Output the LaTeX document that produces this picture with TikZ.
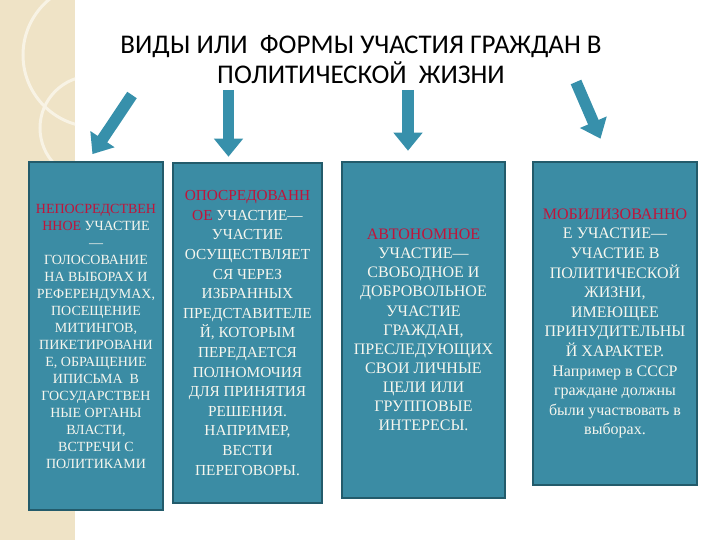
\documentclass[tikz,border=0pt]{standalone}
\usepackage{fontspec}
\setmainfont{Liberation Serif}
\newfontfamily\titlefont{Carlito}
\usetikzlibrary{arrows.meta}
\definecolor{boxfill}{HTML}{3B8CA4}
\definecolor{boxedge}{HTML}{235B6B}
\definecolor{arrowfill}{HTML}{3790AB}
\definecolor{keyword}{HTML}{C0143A}
\definecolor{boxtext}{HTML}{F6F6EE}
\definecolor{paper}{HTML}{EFE3C6}
\newcommand{\kw}[1]{\textcolor{keyword}{#1}}

\begin{document}
\begin{tikzpicture}[x=1pt,y=-1pt,
    formbox/.style={draw=boxedge,line width=2.5pt,fill=boxfill,text=boxtext,
      align=center,inner sep=0pt},
    bigarrow/.style={arrowfill,line width=11.5pt,-{Triangle[width=28pt,length=18pt]}}]
  \useasboundingbox (0,0) rectangle (720,540);
  % beige strip on the left
  \fill[paper] (0,0) rectangle (75,540);
  \begin{scope}
    \clip (0,0) rectangle (75,540);
    \draw[white!55!paper,line width=3pt] (95,55) circle (72);
    \draw[white!55!paper,line width=3pt] (92,128) circle (52);
  \end{scope}
  % title
  \node[font=\titlefont\fontsize{27}{30}\selectfont,align=center] (title) at (361,60)
    {ВИДЫ ИЛИ \ ФОРМЫ УЧАСТИЯ ГРАЖДАН В\\ПОЛИТИЧЕСКОЙ \ ЖИЗНИ};
  % the four forms
  \node[formbox,minimum width=134pt,minimum height=348pt,
    font=\fontsize{14}{17}\selectfont] (b1) at (96,336)
    {\kw{НЕПОСРЕДСТВЕН}\\\kw{ННОЕ} УЧАСТИЕ\\—\\ГОЛОСОВАНИЕ\\НА ВЫБОРАХ И\\РЕФЕРЕНДУМАХ,\\
     ПОСЕЩЕНИЕ\\МИТИНГОВ,\\ПИКЕТИРОВАНИ\\Е, ОБРАЩЕНИЕ\\ИПИСЬМА \ В\\ГОСУДАРСТВЕН\\
     НЫЕ ОРГАНЫ\\ВЛАСТИ,\\ВСТРЕЧИ С\\ПОЛИТИКАМИ};
  \node[formbox,minimum width=149pt,minimum height=340pt,
    font=\fontsize{15.3}{19.6}\selectfont] (b2) at (247.5,333)
    {\kw{ОПОСРЕДОВАНН}\\\kw{ОЕ} УЧАСТИЕ—\\УЧАСТИЕ\\ОСУЩЕСТВЛЯЕТ\\СЯ ЧЕРЕЗ\\ИЗБРАННЫХ\\
     ПРЕДСТАВИТЕЛЕ\\Й, КОТОРЫМ\\ПЕРЕДАЕТСЯ\\ПОЛНОМОЧИЯ\\ДЛЯ ПРИНЯТИЯ\\РЕШЕНИЯ.\\
     НАПРИМЕР,\\ВЕСТИ\\ПЕРЕГОВОРЫ.};
  \node[formbox,minimum width=163pt,minimum height=336pt,
    font=\fontsize{16}{19.1}\selectfont] (b3) at (423.5,330)
    {\kw{АВТОНОМНОЕ}\\УЧАСТИЕ—\\СВОБОДНОЕ И\\ДОБРОВОЛЬНОЕ\\УЧАСТИЕ\\ГРАЖДАН,\\
     ПРЕСЛЕДУЮЩИХ\\СВОИ ЛИЧНЫЕ\\ЦЕЛИ ИЛИ\\ГРУППОВЫЕ\\ИНТЕРЕСЫ.};
  \node[formbox,minimum width=164pt,minimum height=323pt,
    font=\fontsize{16}{19.6}\selectfont] (b4) at (615,323.5)
    {\kw{МОБИЛИЗОВАННО}\\Е УЧАСТИЕ—\\УЧАСТИЕ В\\ПОЛИТИЧЕСКОЙ\\ЖИЗНИ,\\ИМЕЮЩЕЕ\\
     ПРИНУДИТЕЛЬНЫ\\Й ХАРАКТЕР.\\Например в СССР\\граждане должны\\
     были участвовать в\\выборах.};
  % arrows from the title down to the boxes
  \coordinate (t1) at (132,95);
  \coordinate (t2) at (228.5,90);
  \coordinate (t3) at (408,90);
  \coordinate (t4) at (576,82);
  \draw[bigarrow,shorten >=8pt] (t1) -- ([xshift=-8pt]b1.north);
  \draw[bigarrow,shorten >=5pt] (t2) -- ([xshift=-19pt]b2.north);
  \draw[bigarrow,shorten >=10pt] (t3) -- ([xshift=-15.5pt]b3.north);
  \draw[bigarrow,shorten >=24pt] (t4) -- ([xshift=-5pt]b4.north);
\end{tikzpicture}
\end{document}
